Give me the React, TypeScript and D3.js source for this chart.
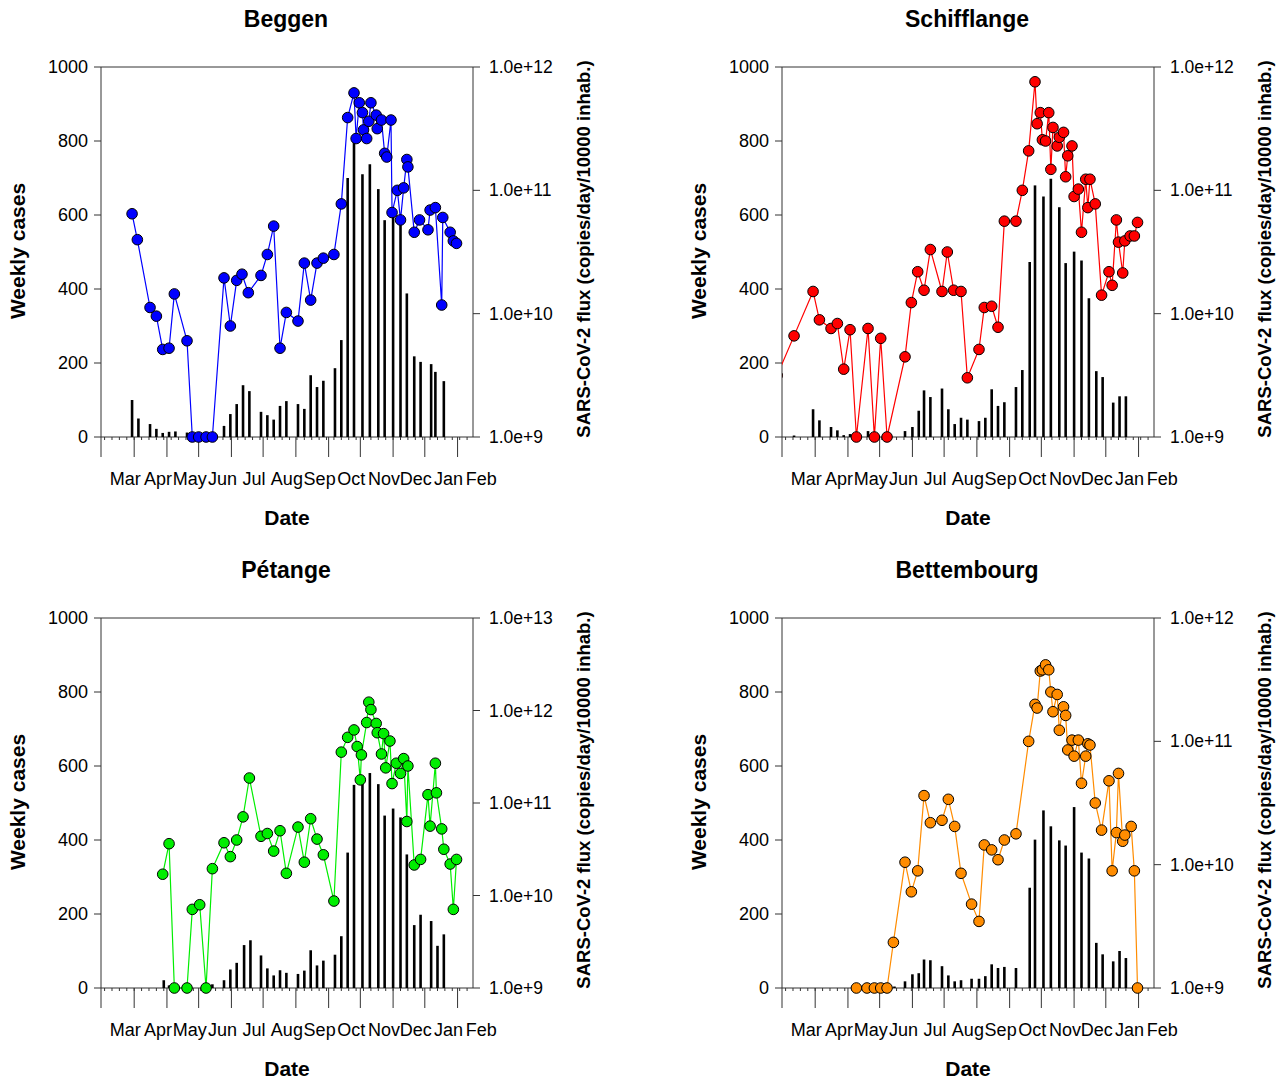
import React from "react";
import * as d3 from "d3";

// day offsets from 2020-03-01 ; flux as log10(copies/day/10000 inhab.)
const begDays = [-2,3,15,21,27,33,38,50,55,61,68,74,85,91,97,102,108,120,126,132,138,144,155,161,167,173,179,189,196,202,208,210,213,216,217,220,222,224,229,230,234,237,239,243,244,249,252,255,258,259,265,270,278,280,285,291,292,299,302,305];
const begFlux = [10.81,10.60,10.05,9.98,9.71,9.72,10.16,9.78,9,9,9,9,10.29,9.90,10.27,10.32,10.17,10.31,10.48,10.71,9.72,10.01,9.94,10.41,10.11,10.41,10.45,10.48,10.89,11.59,11.79,11.42,11.71,11.63,11.49,11.42,11.56,11.71,11.61,11.50,11.57,11.30,11.27,11.57,10.82,11.00,10.76,11.02,11.25,11.19,10.66,10.76,10.68,10.84,10.86,10.07,10.78,10.66,10.59,10.57];
const begBarDays = [-2,4,15,21,27,33,39,50,85,91,97,103,109,120,126,132,138,144,155,161,167,173,179,190,196,202,208,216,223,231,237,245,252,258,265,271,281,285,293];
const begCases = [100,50,35,22,11,14,15,12,30,62,89,140,124,68,59,47,84,97,89,76,167,135,152,186,262,700,806,710,737,670,586,595,590,388,218,203,197,176,151];

const schDays = [-36,-20,-2,4,15,21,27,33,39,50,56,62,68,85,91,97,103,109,120,125,131,138,144,155,160,167,173,179,190,196,202,208,210,213,215,218,221,223,225,229,231,235,237,239,243,245,249,252,256,258,260,265,271,278,281,285,287,291,293,298,302,305];
const schFlux = [9.5,9.82,10.18,9.95,9.88,9.92,9.55,9.87,9,9.88,9,9.80,9,9.65,10.09,10.34,10.19,10.52,10.18,10.50,10.19,10.18,9.48,9.71,10.05,10.06,9.89,10.75,10.75,11.00,11.32,11.88,11.54,11.63,11.41,11.40,11.63,11.17,11.51,11.36,11.43,11.47,11.11,11.28,11.36,10.95,11.01,10.66,11.09,10.86,11.09,10.89,10.15,10.34,10.23,10.76,10.58,10.33,10.59,10.63,10.63,10.74];
const schBarDays = [-20,-2,4,15,21,27,33,50,85,92,98,103,109,120,126,132,138,144,155,161,167,173,179,190,196,203,208,216,223,231,237,245,252,259,266,272,282,288,294];
const schCases = [4,75,45,27,18,5,8,16,16,27,71,126,108,131,75,35,52,47,43,52,129,84,94,135,181,473,680,650,698,621,470,501,477,375,178,162,93,110,110];

const petDays = [27,33,38,50,55,62,68,74,85,91,97,103,109,120,126,132,138,144,155,161,167,173,179,189,196,202,208,211,214,215,220,222,224,229,230,234,236,238,242,244,248,252,255,258,259,265,271,278,280,285,286,291,293,299,302,305];
const petFlux = [10.23,10.56,9,9,9.85,9.90,9,10.29,10.57,10.42,10.60,10.85,11.27,10.64,10.67,10.48,10.70,10.24,10.74,10.36,10.83,10.61,10.44,9.94,11.55,11.71,11.79,11.61,11.25,11.52,11.87,12.09,12.01,11.86,11.76,11.53,11.75,11.38,11.67,11.21,11.43,11.32,11.48,10.80,11.40,10.33,10.39,11.09,10.75,11.43,11.11,10.72,10.50,10.34,9.85,10.39];
const petBarDays = [28,33,74,85,91,97,104,110,120,126,132,138,144,155,161,167,173,179,190,196,202,208,216,223,231,237,245,252,258,265,271,281,287,293];
const petCases = [21,7,10,21,50,68,116,129,88,53,34,48,41,38,47,102,61,74,90,140,366,549,561,581,551,466,485,461,361,170,198,181,114,145];

const betDays = [39,49,56,62,68,74,85,91,97,103,109,120,126,132,138,148,155,160,167,173,179,190,202,208,210,213,215,218,221,223,225,229,231,235,237,239,243,245,249,252,256,258,260,265,271,278,281,285,287,291,293,299,302,305];
const betFlux = [9,9,9,9,9,9.37,10.02,9.78,9.95,10.56,10.34,10.36,10.53,10.31,9.93,9.68,9.54,10.16,10.12,10.04,10.20,10.25,11.00,11.30,11.27,11.57,11.58,11.62,11.58,11.40,11.24,11.38,11.09,11.28,11.21,10.93,11.01,10.88,11.01,10.66,10.88,10.98,10.97,10.50,10.28,10.68,9.95,10.26,10.74,10.19,10.24,10.31,9.95,9];
const betBarDays = [75,85,92,98,103,109,120,126,132,138,148,155,161,167,173,179,190,203,208,216,223,231,237,245,252,259,266,272,282,288,294];
const betCases = [4,18,37,40,77,75,59,34,18,21,25,25,32,64,54,57,54,271,401,480,437,399,385,489,366,350,122,91,72,100,81];

const monthLabels = ["Mar","Apr","May","Jun","Jul","Aug","Sep","Oct","Nov","Dec","Jan","Feb"];
const caseTicks = [0,200,400,600,800,1000];

const panels = [
  { title: "Beggen", days: begDays, flux: begFlux, barDays: begBarDays, cases: begCases, color: "#0000ff", maxExp: 12 },
  { title: "Schifflange", days: schDays, flux: schFlux, barDays: schBarDays, cases: schCases, color: "#ff0000", maxExp: 12 },
  { title: "Pétange", days: petDays, flux: petFlux, barDays: petBarDays, cases: petCases, color: "#00ee00", maxExp: 13 },
  { title: "Bettembourg", days: betDays, flux: betFlux, barDays: betBarDays, cases: betCases, color: "#ff8c00", maxExp: 12 },
];

const base = new Date(2020, 2, 1).getTime();
const dayToDate = (d: number) => new Date(base + d * 864e5);

function Panel({ p, idx }: { p: any; idx: number }) {
  const W = 372, H = 370;
  const left = 101 + (idx % 2) * 681;
  const top = 67 + Math.floor(idx / 2) * 551;
  const x = d3.scaleTime().domain([dayToDate(-31.4), dayToDate(320.6)]).range([0, W]);
  const y = d3.scaleLinear().domain([0, 1000]).range([H, 0]);
  const yr = d3.scaleLinear().domain([9, p.maxExp]).range([H, 0]);
  const months = d3.timeMonth.range(new Date(2020, 2, 1), new Date(2021, 1, 2));
  const weeks = d3.timeWeek.range(dayToDate(-31.4), dayToDate(320.6));
  const pts = p.days.map((d: number, i: number) => [x(dayToDate(d)), yr(p.flux[i])]);
  const line = d3.line()(pts as any) as string;
  const exps = d3.range(9, p.maxExp + 1);
  const clipId = "clip" + idx;
  const font = "Liberation Sans, Arial, sans-serif";
  return (
    <g transform={`translate(${left},${top})`} fontFamily={font}>
      <clipPath id={clipId}><rect x={0} y={-10} width={W} height={H + 20} /></clipPath>
      <text x={W / 2 - 1} y={-40} textAnchor="middle" fontSize={23} fontWeight="bold">{p.title}</text>
      <line x1={0} x2={W} y1={0} y2={0} stroke="#333" />
      <line x1={0} x2={0} y1={0} y2={H + 20} stroke="#333" />
      <line x1={W} x2={W} y1={0} y2={H} stroke="#333" />
      <line x1={0} x2={W} y1={H} y2={H} stroke="#333" />
      {caseTicks.map((t) => (
        <g key={t}>
          <line x1={-7} x2={0} y1={y(t)} y2={y(t)} stroke="#333" />
          <text x={-13} y={y(t) + 6} textAnchor="end" fontSize={18}>{t}</text>
        </g>
      ))}
      {exps.map((e: number) => (
        <g key={e}>
          <line x1={W} x2={W + 7} y1={yr(e)} y2={yr(e)} stroke="#333" />
          <text x={W + 16} y={yr(e) + 6} fontSize={17.5}>{`1.0e+${e}`}</text>
        </g>
      ))}
      {weeks.map((w, i) => (
        <line key={i} x1={x(w)} x2={x(w)} y1={H} y2={H + 3} stroke="#333" />
      ))}
      {months.map((m, i) => (
        <g key={i}>
          {x(m) <= W + 1 && <line x1={x(m)} x2={x(m)} y1={H} y2={H + 20} stroke="#333" />}
          <text x={x(m) - 9} y={H + 48} textAnchor="middle" fontSize={18}>{monthLabels[i]}</text>
        </g>
      ))}
      <text x={W / 2} y={H + 88} textAnchor="middle" fontSize={21} fontWeight="bold">Date</text>
      <text transform={`translate(-76,${H / 2 - 1}) rotate(-90)`} textAnchor="middle" fontSize={21} fontWeight="bold">Weekly cases</text>
      <text transform={`translate(${W + 117},${H / 2 - 3}) rotate(-90)`} textAnchor="middle" fontSize={18.5} fontWeight="bold">SARS-CoV-2 flux (copies/day/10000 inhab.)</text>
      {p.barDays.map((d: number, i: number) => (
        <line key={i} x1={x(dayToDate(d))} x2={x(dayToDate(d))} y1={H} y2={y(p.cases[i])} stroke="#000" strokeWidth={2.6} />
      ))}
      <g clipPath={`url(#${clipId})`}>
        <path d={line} fill="none" stroke={p.color} strokeWidth={1.2} />
        {pts.map((pt: number[], i: number) => (
          <circle key={i} cx={pt[0]} cy={pt[1]} r={5.3} fill={p.color} stroke="#000" strokeWidth={1} />
        ))}
      </g>
    </g>
  );
}

export default function App() {
  return (
    <svg width={1282} height={1084} style={{ position: "absolute", left: 0, top: 0, background: "#fff" }}>
      <rect width={1282} height={1084} fill="#fff" />
      {panels.map((p, i) => <Panel key={i} p={p} idx={i} />)}
    </svg>
  );
}
